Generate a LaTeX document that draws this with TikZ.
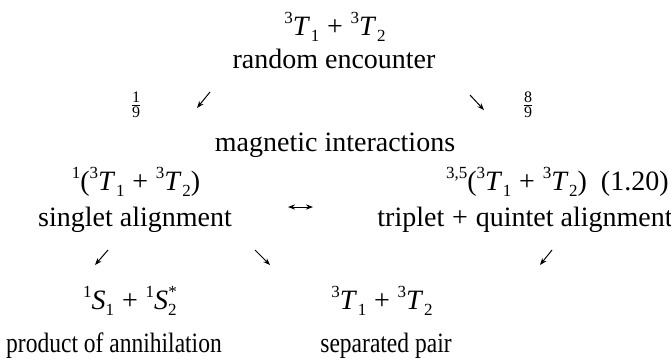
\documentclass[tikz,border=0pt]{standalone}
\usepackage{fontspec}
\setmainfont{Liberation Serif}
\usetikzlibrary{arrows.meta}
\newcommand{\upx}[1]{\raisebox{0.42em}{\fontsize{8.5}{8.5}\selectfont #1}}
\newcommand{\dnx}[1]{\raisebox{-0.22em}{\fontsize{8.5}{8.5}\selectfont #1}}
\newcommand{\tm}[3]{\upx{#1}\textit{#2}\kern0.02em\dnx{#3}}
\newcommand{\pl}{\hspace{0.28em}+\hspace{0.28em}}
\newcommand{\narrow}[1]{\scalebox{0.84}[1]{#1}}
\newcommand{\fr}[2]{$\frac{\mbox{\fontsize{8}{8}\selectfont #1}}{\mbox{\fontsize{8}{8}\selectfont #2}}$}
\begin{document}
\begin{tikzpicture}[x=0.5pt,y=-0.5pt,
  txt/.style={inner sep=0pt, anchor=base, font=\fontsize{14}{17}\selectfont},
  frc/.style={inner sep=0pt},
  arr/.style={-{Stealth[length=3.5pt,width=2.6pt]}, line width=0.5pt},
  darr/.style={{Stealth[length=3.5pt,width=2.6pt]}-{Stealth[length=3.5pt,width=2.6pt]}, line width=0.5pt}]
\useasboundingbox (0,0) rectangle (671,360);
% top
\node[txt] (top) at (335,35) {\tm{3}{T}{1}\pl\tm{3}{T}{2}};
\node[txt] (enc) at (334,68) {random encounter};
% fractions and arrows
\node[frc] (f1) at (136,105) {\fr{1}{9}};
\node[frc] (f8) at (528,105) {\fr{8}{9}};
\coordinate (a1s) at (210,92);
\coordinate (a1e) at (197,108);
\coordinate (a2s) at (470,95);
\coordinate (a2e) at (484,110);
\draw[arr] (a1s) -- (a1e);
\draw[arr] (a2s) -- (a2e);
\node[txt] (mag) at (335,151) {magnetic interactions};
% singlet / triplet row
\node[txt] (sf) at (136,190) {\upx{1}(\tm{3}{T}{1}\pl\tm{3}{T}{2})};
\node[txt] (sl) at (135,226) {singlet alignment};
\node[txt,anchor=base east] (tf) at (669,190) {\upx{3,5}(\tm{3}{T}{1}\pl\tm{3}{T}{2})\hspace{0.5em}(1.20)};
\node[txt] (tl) at (525,226) {triplet\pl{}quintet alignment};
\coordinate (lrs) at (288,207);
\coordinate (lre) at (313,207);
\draw[darr] (lrs) -- (lre);
% lower arrows
\coordinate (b1s) at (108,250);
\coordinate (b1e) at (95,265);
\coordinate (b2s) at (255,250);
\coordinate (b2e) at (270,265);
\coordinate (b3s) at (552,250);
\coordinate (b3e) at (540,265);
\draw[arr] (b1s) -- (b1e);
\draw[arr] (b2s) -- (b2e);
\draw[arr] (b3s) -- (b3e);
% products
\node[txt] (pf) at (130,309) {\upx{1}\textit{S}\dnx{1}\pl\upx{1}\textit{S}\dnx{2}\kern-0.3em\upx{*}};
\node[txt] (pl) at (114,352) {\narrow{product of annihilation}};
\node[txt] (qf) at (382,309) {\tm{3}{T}{1}\pl\tm{3}{T}{2}};
\node[txt] (ql) at (386,352) {\narrow{separated pair}};
\end{tikzpicture}
\end{document}
